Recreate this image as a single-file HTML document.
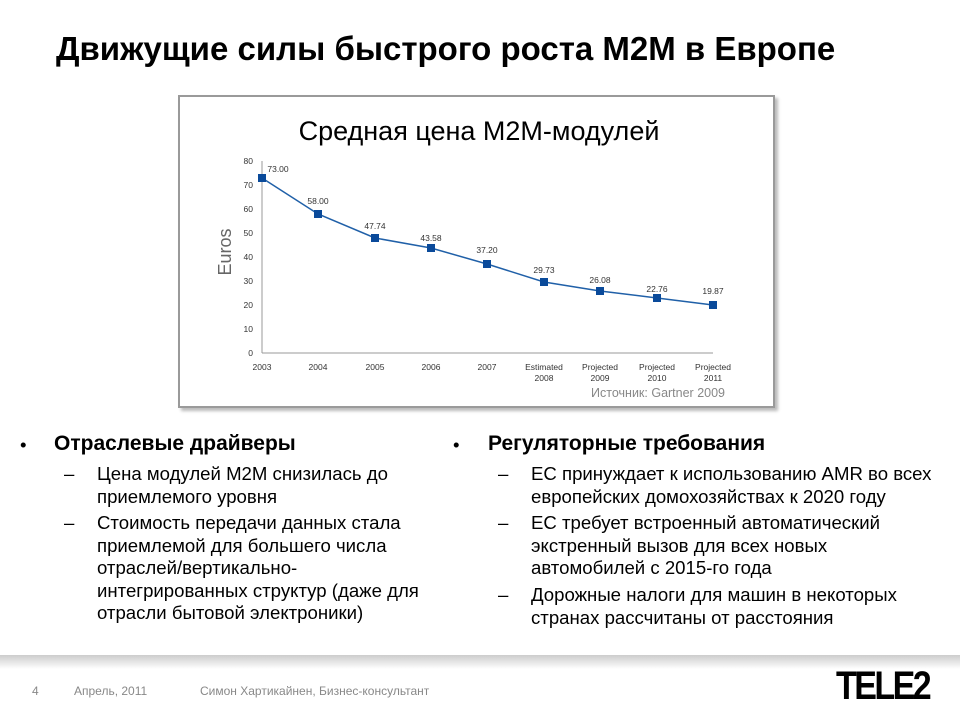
<!DOCTYPE html>
<html><head><meta charset="utf-8"><style>
body{margin:0;width:960px;height:720px;background:#fff;position:relative;overflow:hidden;font-family:"Liberation Sans","DejaVu Sans",sans-serif;}
.t{position:absolute;white-space:nowrap;}
h1{position:absolute;left:56px;top:30px;margin:0;font-size:33px;font-weight:bold;color:#000;}
.box{position:absolute;left:178px;top:95px;width:593px;height:309px;border:2px solid #9a9a9a;background:#fff;box-shadow:3px 3px 3px #bbb;}
.b{font-size:18.6px;color:#000;line-height:22.5px;}
</style></head><body>
<h1>Движущие силы быстрого роста M2M в Европе</h1>
<div class="box"></div>
<svg style="position:absolute;left:0;top:0" width="960" height="720" font-family="Liberation Sans, sans-serif">
<text x="479" y="140" font-size="27" text-anchor="middle">Средная цена M2M-модулей</text>
<text transform="translate(231,252) rotate(-90)" font-size="18" fill="#666" text-anchor="middle">Euros</text>
<g stroke="#999" stroke-width="1">
<line x1="262" y1="161" x2="262" y2="353"/><line x1="262" y1="353" x2="713" y2="353"/>
</g>
<g font-size="8.5" fill="#333" text-anchor="end">
<text x="253" y="356">0</text><text x="253" y="332">10</text><text x="253" y="308">20</text><text x="253" y="284">30</text><text x="253" y="260">40</text><text x="253" y="236">50</text><text x="253" y="212">60</text><text x="253" y="188">70</text><text x="253" y="164">80</text>
</g>
<g font-size="8.5" fill="#333" text-anchor="middle">
<text x="262" y="370">2003</text><text x="318" y="370">2004</text><text x="375" y="370">2005</text><text x="431" y="370">2006</text><text x="487" y="370">2007</text>
<text x="544" y="370">Estimated</text><text x="544" y="381">2008</text>
<text x="600" y="370">Projected</text><text x="600" y="381">2009</text>
<text x="657" y="370">Projected</text><text x="657" y="381">2010</text>
<text x="713" y="370">Projected</text><text x="713" y="381">2011</text>
</g>
<polyline fill="none" stroke="#2060a8" stroke-width="1.5" points="262,178 318,214 375,238 431,248 487,264 544,282 600,291 657,298 713,305"/>
<g fill="#0a4a9a">
<rect x="258" y="174" width="8" height="8"/><rect x="314" y="210" width="8" height="8"/><rect x="371" y="234" width="8" height="8"/><rect x="427" y="244" width="8" height="8"/><rect x="483" y="260" width="8" height="8"/><rect x="540" y="278" width="8" height="8"/><rect x="596" y="287" width="8" height="8"/><rect x="653" y="294" width="8" height="8"/><rect x="709" y="301" width="8" height="8"/>
</g>
<g font-size="8.5" fill="#333" text-anchor="middle">
<text x="278" y="172">73.00</text><text x="318" y="204">58.00</text><text x="375" y="229">47.74</text><text x="431" y="241">43.58</text><text x="487" y="253">37.20</text><text x="544" y="273">29.73</text><text x="600" y="283">26.08</text><text x="657" y="292">22.76</text><text x="713" y="294">19.87</text>
</g>
<text x="725" y="397" font-size="12.5" fill="#888" text-anchor="end">Источник: Gartner 2009</text>
</svg>
<div class="t b" style="left:20px;top:434px;">•</div>
<div class="t b" style="left:54px;top:433px;font-weight:bold;font-size:21px;">Отраслевые драйверы</div>
<div class="t b" style="left:64px;top:463px;">–</div>
<div class="t b" style="left:97px;top:463px;">Цена модулей M2M снизилась до<br>приемлемого уровня</div>
<div class="t b" style="left:64px;top:512px;">–</div>
<div class="t b" style="left:97px;top:512px;">Стоимость передачи данных стала<br>приемлемой для большего числа<br>отраслей/вертикально-<br>интегрированных структур (даже для<br>отрасли бытовой электроники)</div>
<div class="t b" style="left:453px;top:434px;">•</div>
<div class="t b" style="left:488px;top:433px;font-weight:bold;font-size:21px;">Регуляторные требования</div>
<div class="t b" style="left:498px;top:463px;">–</div>
<div class="t b" style="left:531px;top:463px;">ЕС принуждает к использованию AMR во всех<br>европейских домохозяйствах к 2020 году</div>
<div class="t b" style="left:498px;top:512px;">–</div>
<div class="t b" style="left:531px;top:512px;">ЕС требует встроенный автоматический<br>экстренный вызов для всех новых<br>автомобилей с 2015-го года</div>
<div class="t b" style="left:498px;top:584px;">–</div>
<div class="t b" style="left:531px;top:584px;">Дорожные налоги для машин в некоторых<br>странах рассчитаны от расстояния</div>
<div style="position:absolute;left:0;top:655px;width:960px;height:14px;background:linear-gradient(#ccc,#fff);"></div>
<div class="t" style="left:32px;top:684px;font-size:12px;color:#888;">4</div>
<div class="t" style="left:74px;top:684px;font-size:12px;color:#888;">Апрель, 2011</div>
<div class="t" style="left:200px;top:684px;font-size:12px;color:#888;">Симон Хартикайнен, Бизнес-консультант</div>
<div class="t" style="left:836px;top:664px;font-size:40px;font-weight:bold;color:#000;letter-spacing:-3px;transform:scaleX(0.85);transform-origin:left;">TELE2</div>
</body></html>
